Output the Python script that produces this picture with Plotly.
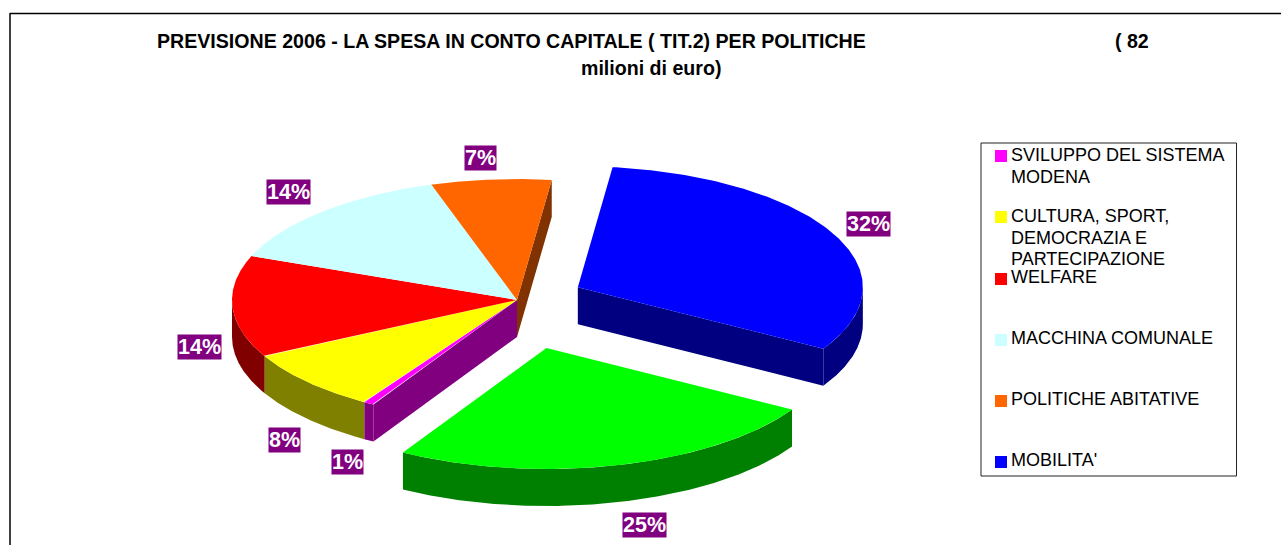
import numpy as np
import plotly.graph_objects as go

# slices in drawing order, clockwise from the top (percent of 82 million euro)
categories = ["MOBILITA'", "", "SVILUPPO DEL SISTEMA<br>MODENA",
              "CULTURA, SPORT,<br>DEMOCRAZIA E<br>PARTECIPAZIONE", "WELFARE",
              "MACCHINA COMUNALE", "POLITICHE ABITATIVE"]
values = [31.5, 24.9, 0.6, 8.3, 13.6, 14.2, 6.8]
explode = [0.238, 0.41, 0, 0, 0, 0, 0]

top_colors = ["#0000FF", "#00FF00", "#FF00FF", "#FFFF00", "#FF0000", "#CCFFFF", "#FF6600"]
side_colors = ["#000080", "#008000", "#800080", "#808000", "#800000", "#668080", "#803300"]

label_x = [868, 644, 347, 284, 199, 288, 480]
label_y = [224, 525, 462, 440, 347, 192, 158]

legend_order = [2, 3, 4, 5, 6, 0]
legend_text_y = [155, 216, 277, 338, 399, 460]
legend_marker_y = [156, 217, 279, 340, 401, 462]

CX, CY = 517, 300
RX, RY = 285, 121
DEPTH = 37
START_ANGLE = 83.0

fig = go.Figure()


def polygon(xs, ys, color, name):
    fig.add_trace(go.Scatter(x=xs, y=ys, mode="lines", fill="toself", fillcolor=color,
                             line=dict(width=0, color=color), name=name,
                             hoverinfo="skip", showlegend=False))


def arc(ox, oy, a1, a2):
    t = np.radians(np.linspace(a1, a2, 160))
    return ox + RX * np.cos(t), oy - RY * np.sin(t)


# work out the angles and exploded centre of every slice
total = sum(values)
angles = []
a = START_ANGLE
for v in values:
    angles.append((a, a - v / total * 360.0))
    a = angles[-1][1]

centers = []
for (a1, a2), e in zip(angles, explode):
    mid = np.radians((a1 + a2) / 2)
    centers.append((CX + e * RX * np.cos(mid), CY - e * RY * np.sin(mid)))

n = len(values)

# side walls first
for i in range(n):
    a1, a2 = angles[i]
    ox, oy = centers[i]
    # cut faces, only where the neighbour does not hide them
    if explode[i - 1] != explode[i] and np.cos(np.radians(a1)) < 0:
        ex, ey = arc(ox, oy, a1, a1)
        polygon([ox, ex[0], ex[0], ox], [oy, ey[0], ey[0] + DEPTH, oy + DEPTH], side_colors[i], "cut")
    if explode[(i + 1) % n] != explode[i] and np.cos(np.radians(a2)) > 0:
        ex, ey = arc(ox, oy, a2, a2)
        polygon([ox, ex[0], ex[0], ox], [oy, ey[0], ey[0] + DEPTH, oy + DEPTH], side_colors[i], "cut")
    # outer rim, only the front half of the ellipse can be seen
    for lo, hi in [(-180, 0), (-540, -360)]:
        f1, f2 = min(a1, hi), max(a2, lo)
        if f1 > f2:
            xs, ys = arc(ox, oy, f1, f2)
            polygon(np.concatenate([xs, xs[::-1]]), np.concatenate([ys, ys[::-1] + DEPTH]),
                    side_colors[i], "rim")

# top faces
for i in range(n):
    a1, a2 = angles[i]
    ox, oy = centers[i]
    xs, ys = arc(ox, oy, a1, a2)
    polygon(np.concatenate([[ox], xs, [ox]]), np.concatenate([[oy], ys, [oy]]),
            top_colors[i], categories[i].replace("<br>", " "))

# legend markers
fig.add_trace(go.Scatter(x=[1001] * len(legend_order), y=legend_marker_y, mode="markers",
                         marker=dict(symbol="square", size=12, color=[top_colors[i] for i in legend_order]),
                         hoverinfo="skip", showlegend=False))

FONT = "Liberation Sans, Arial, sans-serif"
annotations = [
    dict(x=155, y=41, text="<b>PREVISIONE 2006 - LA SPESA IN CONTO CAPITALE ( TIT.2) PER POLITICHE</b>",
         xanchor="left", font=dict(size=19.6)),
    dict(x=1113, y=41, text="<b>( 82</b>", xanchor="left", font=dict(size=19.6)),
    dict(x=651, y=68, text="<b>milioni di euro)</b>", xanchor="center", font=dict(size=19.6)),
]
for i, x, y in zip(range(n), label_x, label_y):
    annotations.append(dict(x=x, y=y, text="<b>%.0f%%</b>" % values[i], bgcolor="#800080",
                            borderpad=0, font=dict(size=21.5, color="#FFFFFF")))
# the legend lines are tighter than the font's own line height, so one annotation per line
for i, y in zip(legend_order, legend_text_y):
    for j, line in enumerate(categories[i].split("<br>")):
        annotations.append(dict(x=1009, y=y + j * 21.5, text=line, xanchor="left", align="left",
                                font=dict(size=18)))
for an in annotations:
    an.update(xref="x", yref="y", showarrow=False)
    an["font"] = dict(family=FONT, color=an["font"].get("color", "#000000"), size=an["font"]["size"])

fig.update_layout(
    width=1281, height=545,
    margin=dict(l=0, r=0, t=0, b=0),
    paper_bgcolor="#FFFFFF", plot_bgcolor="#FFFFFF",
    xaxis=dict(range=[0, 1281], visible=False, fixedrange=True),
    yaxis=dict(range=[545, 0], visible=False, fixedrange=True),
    annotations=annotations,
    shapes=[
        dict(type="line", xref="x", yref="y", x0=10, y0=13.5, x1=1281, y1=13.5, line=dict(color="#000000", width=1.5)),
        dict(type="line", xref="x", yref="y", x0=10, y0=13, x1=10, y1=545, line=dict(color="#000000", width=1.5)),
        dict(type="rect", xref="x", yref="y", x0=981, y0=143, x1=1236.5, y1=476, line=dict(color="#222222", width=1)),
    ],
)

fig.write_html("out.html", config=dict(displayModeBar=False),
               post_script="document.body.style.margin='0';")
